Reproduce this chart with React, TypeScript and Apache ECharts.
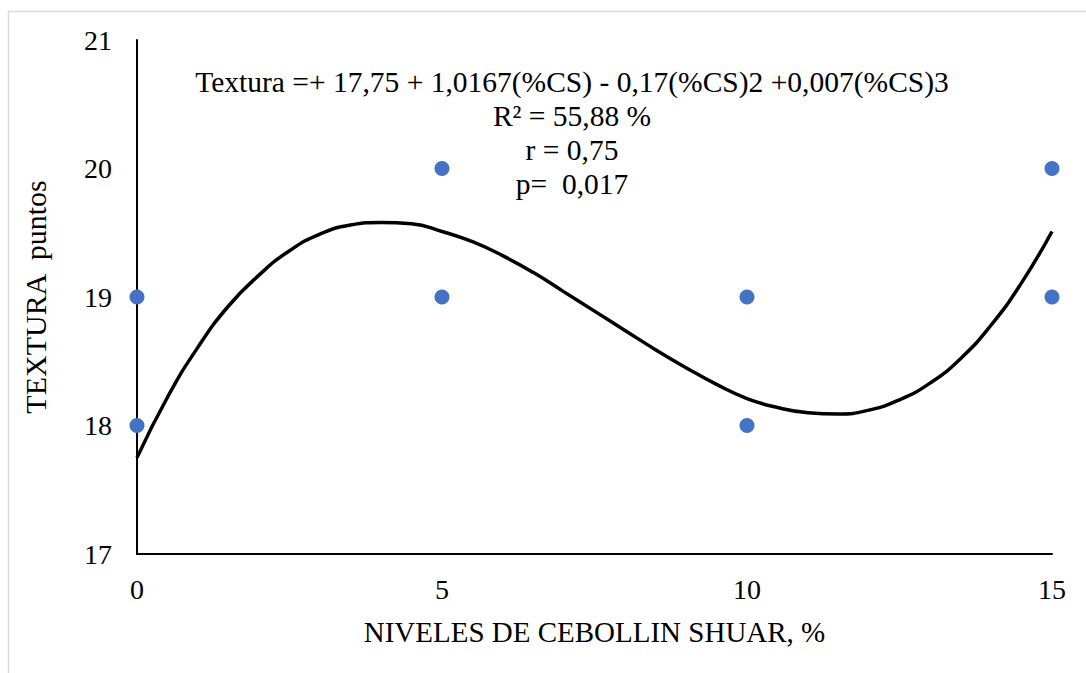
import React, { useEffect, useRef } from "react";
import * as echarts from "echarts";

const levelX = [0, 0, 5, 5, 10, 10, 15, 15];
const texturaY = [19, 18, 20, 19, 19, 18, 20, 19];

const trendX = [0, 0.5, 1, 1.5, 2, 2.5, 3, 3.5, 4, 4.5, 5, 5.5, 6, 6.5, 7, 7.5, 8, 8.5, 9, 9.5, 10, 10.5, 11, 11.5, 12, 12.5, 13, 13.5, 14, 14.5, 15];
const trendY = [17.75, 18.22, 18.61, 18.93, 19.17, 19.36, 19.49, 19.56, 19.58, 19.57, 19.51, 19.43, 19.32, 19.19, 19.04, 18.89, 18.74, 18.59, 18.45, 18.32, 18.21, 18.14, 18.1, 18.09, 18.12, 18.2, 18.33, 18.52, 18.78, 19.11, 19.51];

const xTicks = [0, 5, 10, 15];
const yTicks = [17, 18, 19, 20, 21];

const eqLines = [
  "Textura =+ 17,75 + 1,0167(%CS) - 0,17(%CS)2 +0,007(%CS)3",
  "R² = 55,88 %",
  "r = 0,75",
  "p=  0,017",
];

const FONT = "'Liberation Serif', 'Times New Roman', serif";

export default function App() {
  const ref = useRef<HTMLDivElement>(null);
  useEffect(() => {
    if (!ref.current) return;
    const chart = echarts.init(ref.current, null, { renderer: "svg" });
    chart.setOption({
      animation: false,
      backgroundColor: "#ffffff",
      textStyle: { fontFamily: FONT, color: "#000" },
      grid: { left: 137, right: 34, top: 40, bottom: 119, containLabel: false },
      xAxis: {
        type: "value",
        min: xTicks[0],
        max: xTicks[xTicks.length - 1],
        interval: 5,
        name: "NIVELES DE CEBOLLIN SHUAR, %",
        nameLocation: "middle",
        nameGap: 63,
        nameTextStyle: { fontFamily: FONT, fontSize: 29, color: "#000" },
        axisLine: { show: true, lineStyle: { color: "#000", width: 2 } },
        axisTick: { show: false },
        splitLine: { show: false },
        axisLabel: { fontFamily: FONT, fontSize: 28, color: "#000", margin: 21 },
      },
      yAxis: {
        type: "value",
        min: yTicks[0],
        max: yTicks[yTicks.length - 1],
        interval: 1,
        name: "TEXTURA  puntos",
        nameLocation: "middle",
        nameGap: 87,
        nameRotate: 90,
        nameTextStyle: { fontFamily: FONT, fontSize: 30, color: "#000" },
        axisLine: { show: true, lineStyle: { color: "#000", width: 2 } },
        axisTick: { show: false },
        splitLine: { show: false },
        axisLabel: { fontFamily: FONT, fontSize: 28, color: "#000", margin: 25 },
      },
      graphic: [
        {
          type: "rect",
          shape: { x: 8.5, y: 11.5, width: 1200, height: 800 },
          style: { fill: "none", stroke: "#d9d9d9", lineWidth: 1.5 },
          silent: true,
          z: -10,
        },
        ...eqLines.map((t, i) => ({
          type: "text",
          x: 572,
          y: 82 + i * 34,
          style: {
            text: t,
            fontFamily: FONT,
            fontSize: 29.5,
            fill: "#000",
            textAlign: "center",
            textVerticalAlign: "middle",
          },
          z: 10,
        })),
      ],
      series: [
        {
          type: "line",
          data: trendX.map((x, i) => [x, trendY[i]]),
          smooth: true,
          showSymbol: false,
          lineStyle: { color: "#000", width: 3.5 },
          z: 2,
        },
        {
          type: "scatter",
          data: levelX.map((x, i) => [x, texturaY[i]]),
          symbol: "circle",
          symbolSize: 15,
          itemStyle: { color: "#4472C4", opacity: 1 },
          clip: false,
          z: 3,
        },
      ],
    });
    return () => chart.dispose();
  }, []);
  return (
    <div
      ref={ref}
      style={{ position: "fixed", left: 0, top: 0, width: 1086, height: 673 }}
    />
  );
}
